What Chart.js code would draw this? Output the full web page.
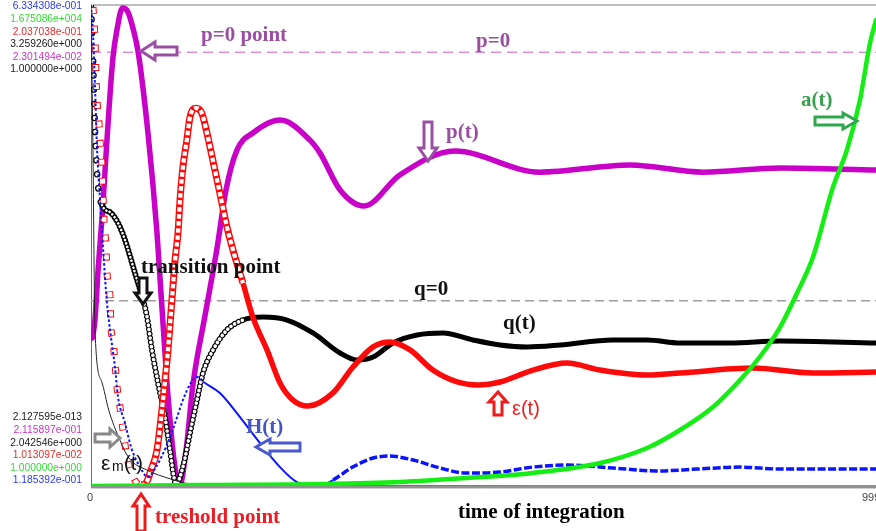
<!DOCTYPE html>
<html><head><meta charset="utf-8">
<script src="https://cdn.jsdelivr.net/npm/chart.js@4.4.0/dist/chart.umd.min.js"></script>
<style>html,body{margin:0;padding:0;background:#fff;overflow:hidden}#wrap{width:876px;height:531px;position:relative}</style>
</head><body><div id="wrap"><canvas id="c" width="876" height="531"></canvas></div>
<script>
// ---------- axis ranges (as printed at the left: max on top group, min on bottom group) ----------
const axisIds   = ['yH', 'yA', 'yE', 'yQ', 'yP', 'yM'];
const axisMin   = [0.1185392, 1.0, 0.01013097, -2.042546, -0.2115897, 2.127595e-13];
const axisMax   = [0.6334308, 16750.86, 0.2037038, 3.259260, 0.02301494, 1.0];
const topLabels    = ['6.334308e-001','1.675086e+004','2.037038e-001','3.259260e+000','2.301494e-002','1.000000e+000'];
const topColors    = ['#2a3de8','#33dd33','#ee2b2b','#1a1a1a','#cc33cc','#1a1a1a'];
const bottomLabels = ['2.127595e-013','2.115897e-001','2.042546e+000','1.013097e-002','1.000000e+000','1.185392e-001'];
const bottomColors = ['#1a1a1a','#cc33cc','#1a1a1a','#ee2b2b','#33dd33','#2a3de8'];
const xTickLabels  = ['0', '999'];
const xRange = [0, 999];

// ---------- p(t) ----------
const pT = [1.9,5,9,15,19.5,28,33,40,47,54,60,72.5,84,96.7,106,113,121,130,145,160,171.8,185.8,206,240.5,278.7,291.4,317,347.4,393,463,571,686,779,877,999];
const pV = [-0.1394,-0.1306,-0.1063,-0.0755,-0.0477,-0.0024,0.0108,0.0215,0.0196,0.0108,0.0001,-0.0394,-0.0882,-0.1614,-0.1999,-0.2111,-0.1940,-0.1614,-0.1287,-0.0965,-0.0672,-0.0477,-0.0394,-0.0331,-0.0429,-0.0492,-0.0672,-0.0750,-0.0599,-0.0482,-0.0585,-0.0550,-0.0585,-0.0565,-0.0575];

// ---------- eps(t) ----------
const eT = [2.5,5.1,6.4,7.6,10.2,11.5,14,16.5,19.1,20.4,24.2,25.4,28,30.5,33.1,36.9,40.7,45.8,53.4,63.6,70,76.4,84,91.6,98,103,107,110.7,113.3,117,122,126,133.6,141,147.6,155,164,173,180.7,193.4,206,224,240.5,257,276,308,333.4,359,380.5,406,435,466,492.5,520.5,562.5,605.8,647.7,707.6,749.6,842.5,918.8,999];
const eV = [0.2029,0.1896,0.1747,0.1655,0.1562,0.1494,0.1385,0.1172,0.1063,0.0958,0.0862,0.0741,0.0689,0.0596,0.0500,0.0419,0.0327,0.0218,0.0138,0.0105,0.0113,0.0166,0.0246,0.0447,0.0649,0.0850,0.1011,0.1119,0.1252,0.1385,0.1494,0.1586,0.1622,0.1602,0.1522,0.1413,0.1280,0.1144,0.1051,0.0918,0.0781,0.0649,0.0516,0.0447,0.0423,0.0476,0.0580,0.0661,0.0681,0.0649,0.0568,0.0520,0.0508,0.0520,0.0568,0.0596,0.0568,0.0548,0.0556,0.0576,0.0556,0.0560];

// ---------- q(t) ----------
const qT = [0,2.5,5.1,8.9,14,25.4,34.4,43.3,56,66.2,71.3,77.6,85.3,94.2,100.5,108.2,117,126,134.9,142.5,155.3,173,193.4,219,249.4,282.5,317,338.5,359,384.3,415,448,486,520.5,555,597,664,707.6,749.6,813,877,999];
const qV = [3.259,2.708,1.881,1.275,1.055,0.967,0.856,0.669,0.305,0.008,-0.180,-0.544,-0.907,-1.282,-1.646,-2.020,-1.833,-1.458,-1.095,-0.797,-0.544,-0.323,-0.213,-0.180,-0.213,-0.356,-0.577,-0.654,-0.621,-0.466,-0.378,-0.356,-0.433,-0.488,-0.510,-0.488,-0.433,-0.433,-0.466,-0.466,-0.444,-0.466];

// ---------- H(t) ----------
const hT = [0,2.5,5.1,7.6,11.5,16.5,20,25.4,30.5,34.4,43.3,51,62.4,72.5,82.7,95.4,107,117,127,135,145,164,189.6,215,240.5,262,291,308,333,359,380,410,444,478,520,562,606,664,720,771,826,877,999];
const hV = [0.6334,0.6034,0.5456,0.4814,0.4247,0.3583,0.3176,0.2780,0.2459,0.2138,0.1859,0.1602,0.1388,0.1281,0.1388,0.1602,0.1859,0.2106,0.2288,0.2352,0.2288,0.2181,0.1924,0.1645,0.1388,0.1228,0.1185,0.1249,0.1388,0.1485,0.1506,0.1463,0.1378,0.1324,0.1335,0.1388,0.1410,0.1378,0.1346,0.1367,0.1388,0.1367,0.1367];

// ---------- a(t) ----------
const aT = [0,139,300,393,478.5,562.5,648,707.6,749.6,791.6,826,851,877,898.5,918.8,944.3,962,978.6,991.4,999];
const aV = [1,36,71,140,280,454,802,1324,1951,2752,3692,4493,5537,6721,7975,10412,11701,13442,15426,16227];

// ---------- eps_m(t) ----------
const mT = [0,2.5,5.1,13.4,22.9,35.6,48.4,71.3,100.5,126,164,999];
const mV = [1.0,0.699,0.322,0.218,0.156,0.100,0.058,0.033,0.015,0.004,0.0005,2.13e-13];

// ---------- reference zero lines ----------
const zeroT = [0, 999];
const zeroV = [0, 0];

const pts = (T, V) => T.map((t, i) => ({x: t, y: V[i]}));
const X = c => c.p0.parsed.x;
const CLEAR = 'rgba(0,0,0,0)';

const scales = { x: { type: 'linear', min: xRange[0], max: xRange[1], display: false } };
axisIds.forEach((id, i) => { scales[id] = { type: 'linear', min: axisMin[i], max: axisMax[i], display: false }; });

const base = { pointRadius: 0, pointHoverRadius: 0, fill: false, cubicInterpolationMode: 'monotone', parsing: true };

const datasets = [
  // a(t) green (top-most)
  Object.assign({}, base, { label: 'a(t)', data: pts(aT, aV), yAxisID: 'yA', borderColor: '#14ee14', borderWidth: 4.5, borderCapStyle: 'round' }),
  // eps_m thin black
  Object.assign({}, base, { label: 'eps_m(t)', data: pts(mT, mV), yAxisID: 'yM', borderColor: '#222', borderWidth: 1 }),
  // H(t) blue
  Object.assign({}, base, { label: 'H(t)', data: pts(hT, hV), yAxisID: 'yH', borderColor: '#0a14ff', borderWidth: 2,
    segment: {
      borderDash: c => X(c) < 140 ? [2.5, 2.2] : (X(c) >= 300 ? [8, 2.5] : undefined),
      borderWidth: c => X(c) >= 300 ? 3.5 : 2
    } }),
  // eps overlay (hollow squares)
  Object.assign({}, base, { label: 'eps-o', data: pts(eT, eV), yAxisID: 'yE', borderColor: '#fff', borderWidth: 4.5,
    segment: {
      borderColor: c => X(c) < 190 ? '#ffffff' : CLEAR,
      borderDash: c => X(c) < 62 ? [5, 14] : [4.5, 2.5],
      borderDashOffset: c => X(c) < 62 ? -1 : 0,
      borderWidth: c => X(c) < 62 ? 5 : 4.2
    } }),
  // eps(t) red
  Object.assign({}, base, { label: 'eps(t)', data: pts(eT, eV), yAxisID: 'yE', borderColor: '#ff0a0a', borderWidth: 5.5,
    segment: {
      borderDash: c => X(c) < 62 ? [7, 12] : undefined,
      borderWidth: c => X(c) < 190 ? 7 : 5.5
    } }),
  // q overlay (hollow circles)
  Object.assign({}, base, { label: 'q-o', data: pts(qT, qV), yAxisID: 'yQ', borderColor: '#fff', borderWidth: 4, borderCapStyle: 'round',
    segment: {
      borderColor: c => X(c) < 190 ? '#ffffff' : CLEAR,
      borderDash: c => X(c) < 14 ? [0.1, 14] : (X(c) < 66 ? [0.1, 3.5] : [0.1, 4.2]),
      borderWidth: c => X(c) < 14 ? 4 : (X(c) < 66 ? 2.6 : 3.6)
    } }),
  // q(t) black
  Object.assign({}, base, { label: 'q(t)', data: pts(qT, qV), yAxisID: 'yQ', borderColor: '#000', borderWidth: 5, borderCapStyle: 'round',
    segment: {
      borderDash: c => X(c) < 14 ? [0.1, 14] : (X(c) < 66 ? [0.1, 3.5] : (X(c) < 190 ? [0.1, 4.2] : undefined)),
      borderWidth: c => X(c) < 14 ? 6.5 : (X(c) < 190 ? 6 : 5)
    } }),
  // p(t) magenta
  Object.assign({}, base, { label: 'p(t)', data: pts(pT, pV), yAxisID: 'yP', borderColor: '#c800c8', borderWidth: 5.5, borderCapStyle: 'round' }),
  // p = 0
  Object.assign({}, base, { label: 'p=0', data: pts(zeroT, zeroV), yAxisID: 'yP', borderColor: '#c755c7', borderWidth: 1, borderDash: [10, 6], cubicInterpolationMode: 'default', tension: 0 }),
  // q = 0
  Object.assign({}, base, { label: 'q=0', data: pts(zeroT, zeroV), yAxisID: 'yQ', borderColor: '#9d9d9d', borderWidth: 1.6, borderDash: [9, 5], cubicInterpolationMode: 'default', tension: 0 })
];

function blockArrow(ctx, x, y, dir, L, H, sw, hw, color, lw) {
  const loc = [[0,0],[-H,-hw],[-H,-sw],[-L,-sw],[-L,sw],[-H,sw],[-H,hw]];
  const map = ([lx, ly]) => {
    if (dir === 'right') return [x + lx, y + ly];
    if (dir === 'left')  return [x - lx, y + ly];
    if (dir === 'down')  return [x + ly, y + lx];
    return [x + ly, y - lx];
  };
  ctx.beginPath();
  loc.map(map).forEach(([px, py], i) => i ? ctx.lineTo(px, py) : ctx.moveTo(px, py));
  ctx.closePath();
  ctx.fillStyle = '#fff';
  ctx.fill();
  ctx.lineWidth = lw || 3;
  ctx.lineJoin = 'miter';
  ctx.strokeStyle = color;
  ctx.stroke();
}

const SERIF = 'bold 21px "Liberation Serif", "Times New Roman", serif';
const SANS = '"Liberation Sans", Arial, sans-serif';

const decor = {
  id: 'decor',
  beforeDatasetsDraw(chart) {
    const {ctx, chartArea: a} = chart;
    ctx.save();
    ctx.lineWidth = 1.5;
    ctx.strokeStyle = '#a9a9a9';
    ctx.beginPath(); ctx.moveTo(a.left, a.top); ctx.lineTo(a.right, a.top); ctx.stroke();
    ctx.lineWidth = 1;
    ctx.strokeStyle = '#6a6a6a';
    ctx.beginPath(); ctx.moveTo(a.left + 0.5, a.top); ctx.lineTo(a.left + 0.5, a.bottom + 1); ctx.stroke();
    ctx.restore();
  },
  afterDatasetsDraw(chart) {
    const {ctx, chartArea: a, scales: s} = chart;
    ctx.save();
    // bottom axis line
    ctx.strokeStyle = '#6e6e6e'; ctx.lineWidth = 1.3;
    ctx.beginPath(); ctx.moveTo(a.left, a.bottom + 1); ctx.lineTo(a.right, a.bottom + 1); ctx.stroke();
    ctx.strokeStyle = '#cfcfcf'; ctx.lineWidth = 1;
    ctx.beginPath(); ctx.moveTo(a.left, a.bottom + 2.5); ctx.lineTo(a.right, a.bottom + 2.5); ctx.stroke();

    // left range labels
    ctx.font = '10.3px ' + SANS;
    ctx.textAlign = 'right'; ctx.textBaseline = 'middle';
    topLabels.forEach((t, i) => { ctx.fillStyle = topColors[i]; ctx.fillText(t, 82, 6.5 + i * 12.6); });
    bottomLabels.forEach((t, i) => { ctx.fillStyle = bottomColors[i]; ctx.fillText(t, 82, 417.5 + i * 12.6); });

    // x tick labels
    ctx.fillStyle = '#444'; ctx.font = '11px ' + SANS; ctx.textBaseline = 'middle';
    ctx.textAlign = 'center'; ctx.fillText(xTickLabels[0], s.x.getPixelForValue(xRange[0]) - 1, 498);
    ctx.textAlign = 'left'; ctx.fillText(xTickLabels[1], s.x.getPixelForValue(xRange[1]) - 14, 498);

    // annotations
    const purple = '#9b4fa3';
    const txt = (t, x, y, color, font) => { ctx.font = font || SERIF; ctx.fillStyle = color; ctx.textAlign = 'left'; ctx.textBaseline = 'middle'; ctx.fillText(t, x, y); };
    txt('p=0 point', 201, 36, purple);
    txt('p=0', 476, 42, purple);
    txt('p(t)', 446, 133, purple);
    txt('a(t)', 801, 101, '#3a9f4f');
    txt('q=0', 414, 290, '#111');
    txt('q(t)', 503, 324, '#111');
    txt('transition point', 141, 268, '#111');
    txt('H(t)', 246, 428, '#4453c5');
    txt('ε(t)', 512, 409, '#ee1c1c', '20px ' + SANS);
    txt('treshold point', 155, 518, '#ee1c24');
    txt('time of integration', 458, 513, '#000');
    // eps_m(t)
    txt('ε', 101, 464, '#111', '21px ' + SANS);
    txt('m', 112, 467, '#111', '14px ' + SANS);
    txt('(t)', 124, 464, '#111', '20px ' + SANS);

    // block arrows
    blockArrow(ctx, 141, 51, 'left', 36, 14, 4, 9, purple, 3);
    blockArrow(ctx, 857, 121, 'right', 42, 14, 4, 8, '#2ea84c', 3);
    blockArrow(ctx, 428, 161, 'down', 39, 13, 4, 9, purple, 3);
    blockArrow(ctx, 143, 304, 'down', 26, 11, 4, 8, '#111', 3);
    blockArrow(ctx, 256, 447, 'left', 44, 14, 4, 8, '#4a5acc', 3);
    blockArrow(ctx, 498, 392, 'up', 23, 10, 4, 9, '#ee1c1c', 3);
    blockArrow(ctx, 120, 438, 'right', 25, 10, 4, 9, '#888', 3);
    blockArrow(ctx, 141, 494, 'up', 37, 12, 4, 8, '#ee1c1c', 3);
    ctx.restore();
  }
};

new Chart(document.getElementById('c'), {
  type: 'line',
  data: { datasets },
  options: {
    responsive: false,
    animation: false,
    devicePixelRatio: 1,
    layout: { padding: { left: 91, right: 0, top: 5, bottom: 45 } },
    scales,
    plugins: { legend: { display: false }, tooltip: { enabled: false } },
    elements: { line: { borderJoinStyle: 'round' } }
  },
  plugins: [decor]
});
</script>
</body></html>
